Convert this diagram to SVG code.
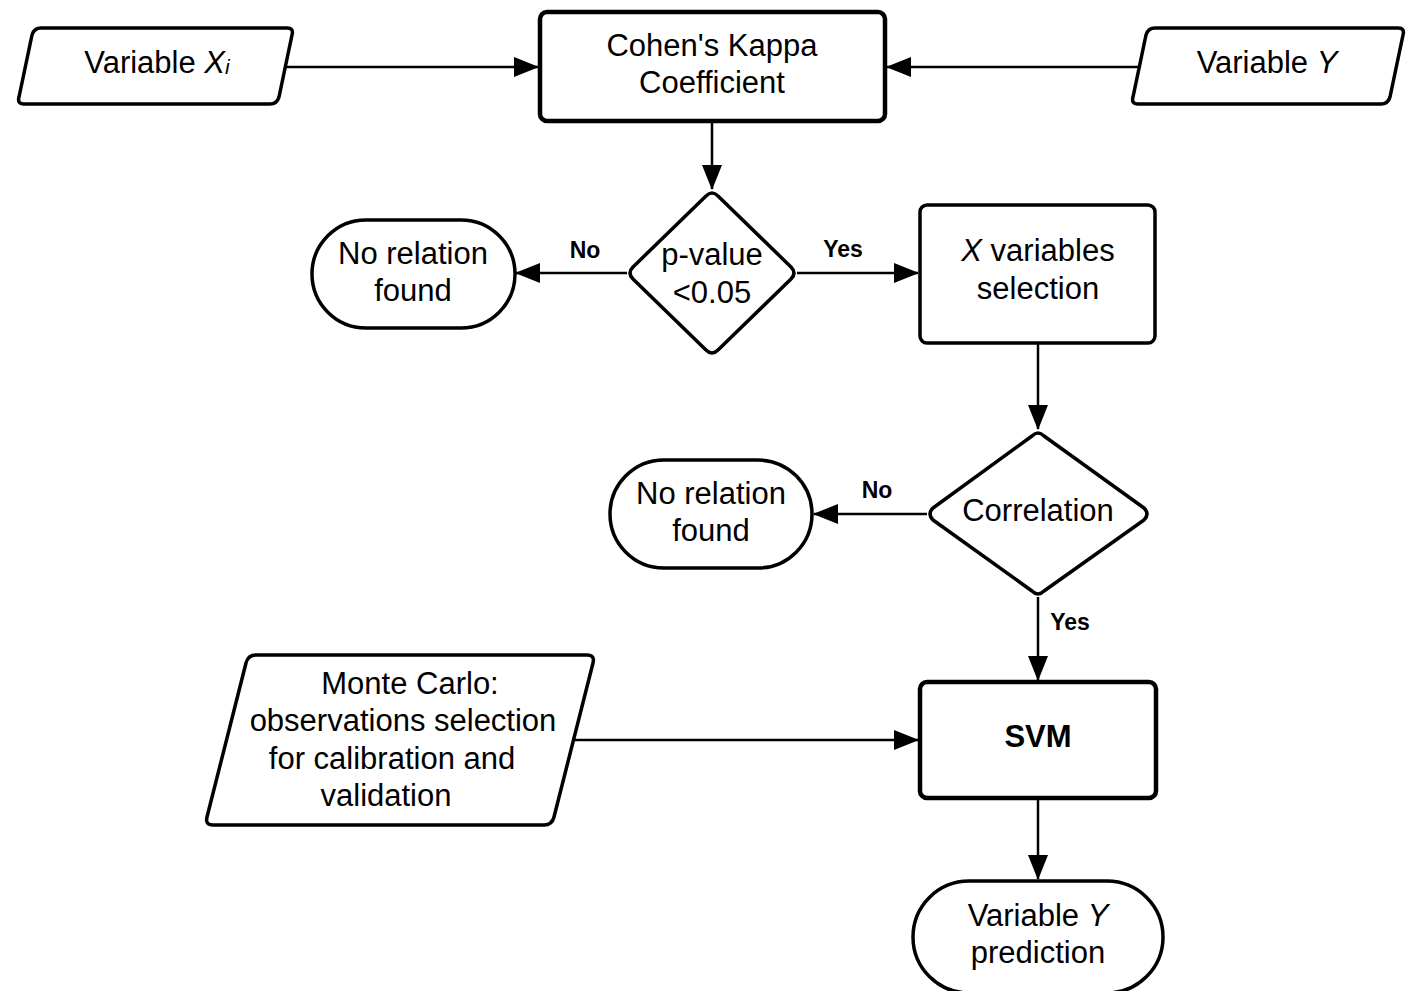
<svg xmlns="http://www.w3.org/2000/svg" width="1418" height="991" viewBox="0 0 1418 991">
<defs>
<marker id="ah" markerUnits="userSpaceOnUse" markerWidth="26" markerHeight="20" refX="24" refY="10" orient="auto">
<path d="M0,0 L25,10 L0,20 Z" fill="#000"/>
</marker>
</defs>
<style>
.s{fill:#fff;stroke:#000;stroke-width:3.5;stroke-linejoin:round}
.k{fill:#fff;stroke:#000;stroke-width:4.5;stroke-linejoin:round}
.t{font-family:"Liberation Sans",Arial,sans-serif;font-size:31px;fill:#000;text-anchor:middle}
.b{font-weight:bold}
.l{font-family:"Liberation Sans",Arial,sans-serif;font-size:23px;font-weight:bold;fill:#000;text-anchor:middle}
.c{fill:none;stroke:#000;stroke-width:2.5}
</style>
<rect width="1418" height="991" fill="#fff"/>
<g id="connectors">
<line class="c" x1="287" y1="67" x2="538" y2="67" marker-end="url(#ah)"/>
<line class="c" x1="1138" y1="67" x2="887" y2="67" marker-end="url(#ah)"/>
<line class="c" x1="712" y1="121" x2="712" y2="189" marker-end="url(#ah)"/>
<line class="c" x1="627" y1="273" x2="516" y2="273" marker-end="url(#ah)"/>
<line class="c" x1="797" y1="273" x2="918" y2="273" marker-end="url(#ah)"/>
<line class="c" x1="1038" y1="343" x2="1038" y2="429" marker-end="url(#ah)"/>
<line class="c" x1="927" y1="514" x2="814" y2="514" marker-end="url(#ah)"/>
<line class="c" x1="1038" y1="597" x2="1038" y2="680" marker-end="url(#ah)"/>
<line class="c" x1="574" y1="740" x2="918" y2="740" marker-end="url(#ah)"/>
<line class="c" x1="1038" y1="798" x2="1038" y2="879" marker-end="url(#ah)"/>
<text class="l" x="585" y="258">No</text>
<text class="l" x="843" y="257">Yes</text>
<text class="l" x="877" y="498">No</text>
<text class="l" x="1070" y="630">Yes</text>
</g>
<g id="varX">
<path class="s" d="M41,28 L287,28 Q294,28 292,35 L279,97 Q277,104 270,104 L24,104 Q17,104 19,97 L32,35 Q34,28 41,28 Z"/>
<text class="t" x="157" y="73">Variable <tspan font-style="italic">X<tspan font-size="21px" dy="1">i</tspan></tspan></text>
</g>
<g id="cohen">
<rect class="k" x="540" y="12" width="345" height="109" rx="7"/>
<text class="t" x="712" y="56">Cohen's Kappa</text>
<text class="t" x="712" y="93">Coefficient</text>
</g>
<g id="varY">
<path class="s" d="M1155,28 L1398,28 Q1405,28 1403,35 L1390,97 Q1388,104 1381,104 L1138,104 Q1131,104 1133,97 L1146,35 Q1148,28 1155,28 Z"/>
<text class="t" x="1267" y="73">Variable <tspan font-style="italic">Y</tspan></text>
</g>
<g id="pvalue">
<path class="s" d="M706,196 Q712,190 718,196 L791,267 Q797,273 791,279 L718,350 Q712,356 706,350 L633,279 Q627,273 633,267 Z"/>
<text class="t" x="712" y="265">p-value</text>
<text class="t" x="712" y="303">&lt;0.05</text>
</g>
<g id="norel1">
<rect class="s" x="312" y="220" width="203" height="108" rx="54"/>
<text class="t" x="413" y="264">No relation</text>
<text class="t" x="413" y="301">found</text>
</g>
<g id="xsel">
<rect class="s" x="920" y="205" width="235" height="138" rx="7"/>
<text class="t" x="1038" y="261"><tspan font-style="italic">X</tspan> variables</text>
<text class="t" x="1038" y="299">selection</text>
</g>
<g id="corr">
<path class="s" d="M1032,436 Q1038,430 1044,436 L1144,508 Q1150,514 1144,520 L1044,591 Q1038,597 1032,591 L933,520 Q927,514 933,508 Z"/>
<text class="t" x="1038" y="521">Correlation</text>
</g>
<g id="norel2">
<rect class="s" x="610" y="460" width="202" height="108" rx="54"/>
<text class="t" x="711" y="504">No relation</text>
<text class="t" x="711" y="541">found</text>
</g>
<g id="svm">
<rect class="k" x="920" y="682" width="236" height="116" rx="7"/>
<text class="t b" x="1038" y="747">SVM</text>
</g>
<g id="monte">
<path class="s" d="M256,655 L587,655 Q595,655 593,663 L554,817 Q552,825 544,825 L213,825 Q205,825 207,817 L246,663 Q248,655 256,655 Z"/>
<text class="t" x="410" y="694">Monte Carlo:</text>
<text class="t" x="403" y="731">observations selection</text>
<text class="t" x="392" y="769">for calibration and</text>
<text class="t" x="386" y="806">validation</text>
</g>
<g id="pred">
<rect class="s" x="913" y="881" width="250" height="112" rx="56"/>
<text class="t" x="1038" y="926">Variable <tspan font-style="italic">Y</tspan></text>
<text class="t" x="1038" y="963">prediction</text>
</g>
</svg>
